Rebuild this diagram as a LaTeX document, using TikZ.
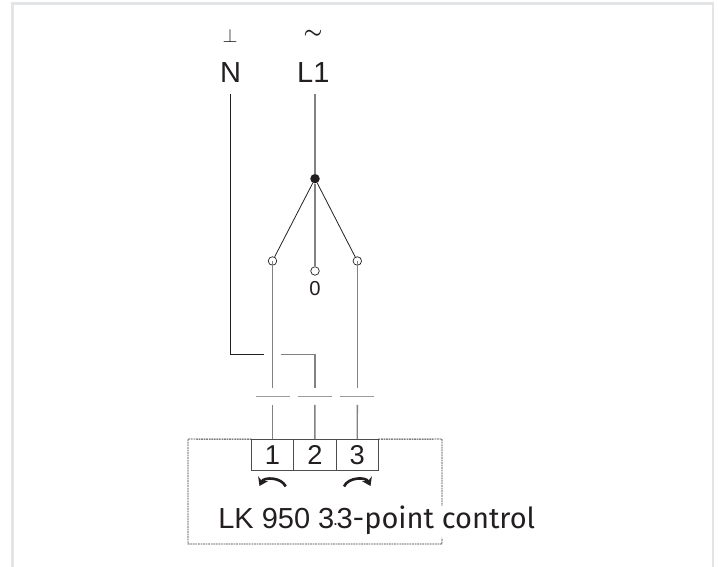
\documentclass[tikz,border=0pt]{standalone}
\usepackage{fontspec}
\setmainfont{Liberation Sans}
\newfontfamily\plainfont{Fira Sans}
\usepackage{xcolor}
\usetikzlibrary{calc,arrows.meta,positioning}
\definecolor{frame}{HTML}{E3E4E5}
\definecolor{ink}{HTML}{231F20}
\definecolor{wire}{HTML}{808285}
\tikzset{
  wire/.style={draw=wire, line width=0.8pt},
  thin/.style={draw=ink, line width=0.45pt},
  bar/.style={draw=wire!80, line width=0.7pt},
  box/.style={draw=ink!90, line width=0.55pt, dash pattern=on 1pt off 0.45pt},
  term/.style={draw=ink!80, line width=0.65pt, minimum width=0.848cm, minimum height=0.634cm, inner sep=0pt, outer sep=0pt, text=ink, font=\fontsize{15.5}{16}\selectfont},
  lab/.style={text=ink, inner sep=0pt, font=\fontsize{16.5}{18}\selectfont},
  open/.style={circle, draw=ink, line width=0.4pt, fill=none, minimum size=0.17cm, inner sep=0pt},
  turn/.style={draw=ink, line width=1.5pt, -{Stealth[length=4.6pt,width=6.2pt]}},
}
\begin{document}
\begin{tikzpicture}[x=0.02cm,y=-0.02cm]
  \useasboundingbox (0,0) rectangle (718,567);
  \fill[white] (0,0) rectangle (718,567);
  \draw[frame,line width=1.7pt] (12.5,3.5) rectangle (713,575);

  % supply
  \node[lab,font=\fontsize{11}{12}\selectfont] (earth) at (230,35.5) {$\perp$};
  \node[lab,font=\fontsize{12}{13}\selectfont\boldmath] (tilde) at (313,34) {$\sim$};
  \node[lab] (N) at (230.5,72.5) {N};
  \node[lab] (L) at (313.3,72.5) {L1};
  \coordinate (Ntop) at (230.3,94);
  \coordinate (Ltop) at (315,94);

  % switch
  \node[circle,fill=ink,minimum size=0.19cm,inner sep=0pt] (hub) at (315,178.7) {};
  \node[open] (sw1) at (272.5,261) {};
  \node[open] (sw0) at (315,271) {};
  \node[open] (sw3) at (357.3,261) {};
  \node[lab,font=\fontsize{11.5}{12}\selectfont] (zero) at (315,289) {0};
  \draw[wire] (Ltop) -- (hub);
  \draw[wire] (hub) -- (sw0);
  \draw[thin] (hub) -- (sw1);
  \draw[thin] (hub) -- (sw3);

  % terminals
  \node[term] (t1) at (272.5,455) {1};
  \node[term,right=0pt of t1] (t2) {2};
  \node[term,right=0pt of t2] (t3) {3};
  \coordinate (in1) at (272.5,405);
  \coordinate (in2) at (314.9,405);
  \coordinate (in3) at (357.3,405);
  \draw[wire] (sw1.center) -- (272.5,388);
  \draw[wire] (sw3.center) -- (357.3,388);
  \draw[thin] (Ntop) -- (230.3,354.3) -- (264.3,354.3);
  \draw[wire] (280.7,354.3) -- (314.9,354.3) -- (314.9,388);
  \foreach \i in {1,2,3} {
    \draw[bar] ($(in\i)+(-17,-8.3)$) -- ($(in\i)+(17,-8.3)$);
    \draw[wire] (in\i) -- (t\i.north);
  }

  % housing
  \draw[box] (t1.north west) -- (188,439) -- (188,544) -- (442,544) -- (442,538);
  \draw[box] (t3.north east) -- (442,439) -- (442,506);

  % rotation
  \draw[turn] (285.7,486.5) to[bend right=65] (259.5,486);
  \draw[turn] (344,486.5) to[bend left=65] (370.5,486);

  \node[lab,anchor=base west] (title) at (218,529) {LK 950 3\makebox[1.2pt]{\fontsize{10}{10}\selectfont\raisebox{2pt}{.}}3{\plainfont-point control}};
\end{tikzpicture}
\end{document}
